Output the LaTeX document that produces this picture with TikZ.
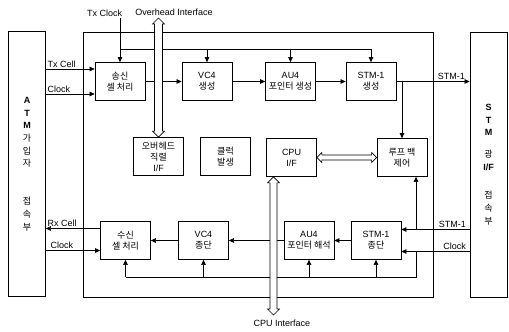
\documentclass[tikz,border=0pt]{standalone}
\usepackage{fontspec}
\setmainfont{Liberation Sans}
\newfontfamily\kr{Noto Sans CJK KR}
\usetikzlibrary{arrows.meta,positioning,calc}

% hollow two-headed arrow: tip, tip, half shaft, half head, head length
\newcommand{\hollowarrow}[5]{%
  \path ($(#1)!#5!(#2)$) coordinate (ha) ($(#2)!#5!(#1)$) coordinate (hb);
  \filldraw[fill=white,line width=0.6pt,line join=miter]
    (#1) -- ($(ha)!#4!90:(#2)$) -- ($(ha)!#3!90:(#2)$)
    -- ($(hb)!#3!-90:(#1)$) -- ($(hb)!#4!-90:(#1)$) -- (#2)
    -- ($(hb)!#4!90:(#1)$) -- ($(hb)!#3!90:(#1)$)
    -- ($(ha)!#3!-90:(#2)$) -- ($(ha)!#4!-90:(#2)$) -- cycle;}

\begin{document}
\begin{tikzpicture}[x=1pt,y=-1pt,line width=0.6pt,
    blk/.style={draw,line width=0.7pt,minimum width=50pt,minimum height=38pt,
      inner sep=1pt,align=center,font=\fontsize{9}{11}\selectfont},
    side/.style={draw,line width=0.7pt,minimum width=37pt,minimum height=265pt,
      inner sep=0pt,align=center,font=\fontsize{9}{12.7}\selectfont},
    lbl/.style={font=\fontsize{9}{10}\selectfont,inner sep=1.5pt},
    arw/.style={-{Triangle[length=5pt,width=4.5pt]}}]
  \useasboundingbox (0,0) rectangle (509,332);

  % outer units
  \node[side] (atm) at (27,164) {\textbf{A}\\\textbf{T}\\\textbf{M}\\{\kr 가}\\{\kr 입}\\{\kr 자}\\[25pt]{\kr 접}\\{\kr 속}\\{\kr 부}};
  \node[side] (stm) at (488.5,164.5) {\textbf{S}\\\textbf{T}\\\textbf{M}\\[9pt]{\kr 광}\\\textbf{I/F}\\[16pt]{\kr 접}\\{\kr 속}\\{\kr 부}};
  \draw[line width=0.7pt] (83,32) rectangle (433,297);

  % transmit row
  \node[blk] (txcell) at (120,81.5) {{\kr 송신}\\{\kr 셀 처리}};
  \node[blk] (vcgen)  at (207,81.5) {VC4\\{\kr 생성}};
  \node[blk] (augen)  at (290.5,81.5) {AU4\\{\kr 포인터 생성}};
  \node[blk] (stmgen) at (371,81.5) {STM-1\\{\kr 생성}};

  % middle row
  \node[blk] (ohif)    at (158.5,156.5) {{\kr 오버헤드}\\{\kr 직렬}\\I/F};
  \node[blk] (clkgen)  at (225.5,156.5) {{\kr 클럭}\\{\kr 발생}};
  \node[blk] (cpuif)   at (291.5,157.5) {CPU\\I/F};
  \node[blk] (loopctl) at (402,157.5) {{\kr 루프 백}\\{\kr 제어}};

  % receive row
  \node[blk] (rxcell)  at (125.5,240.5) {{\kr 수신}\\{\kr 셀 처리}};
  \node[blk] (vcterm)  at (203.5,240.5) {VC4\\{\kr 종단}};
  \node[blk] (auterm)  at (309,240.5) {AU4\\{\kr 포인터 해석}};
  \node[blk] (stmterm) at (376,240.5) {STM-1\\{\kr 종단}};

  % top labels
  \node[lbl,anchor=east] (txclklbl) at (124,13) {Tx Clock};
  \node[lbl] (ohlbl) at (174,12) {Overhead Interface};
  \node[lbl] (cpulbl) at (282,323) {CPU Interface};

  % transmit side
  \coordinate (txin) at ([yshift=12.5pt]txcell.west);
  \coordinate (txck) at ([yshift=-12.5pt]txcell.west);
  \draw[arw] (txin -| atm.east) -- node[lbl,above right,pos=0] {Tx Cell} (txin);
  \draw[arw] (txck -| atm.east) -- node[lbl,above right,pos=0] {Clock} (txck);
  \draw[arw] (txcell.east) -- (vcgen.west);
  \draw[arw] (vcgen.east) -- (augen.west);
  \draw[arw] (augen.east) -- (stmgen.west);
  \draw[arw] (stmgen.east) -- node[lbl,above left,pos=1,xshift=-3pt] {STM-1} (stmgen.east -| stm.west);
  \draw[arw] (stmgen.east -| loopctl.north) -- (loopctl.north);

  % transmit clock
  \coordinate (clkbus) at (0,49);
  \draw[arw] (txclklbl.south -| txcell.north) -- (txcell.north);
  \draw (txcell.north |- clkbus) -- (stmgen.north |- clkbus);
  \foreach \b in {vcgen,augen,stmgen}
    \draw[arw] (\b.north |- clkbus) -- (\b.north);

  % receive side
  \coordinate (rxs) at ([yshift=11pt]stmterm.east);
  \coordinate (rxc) at ([yshift=-11pt]stmterm.east);
  \coordinate (tap) at (416,0);
  \draw[arw] (rxs -| stm.west) -- node[lbl,above left,pos=0,xshift=-2pt] {STM-1} (rxs);
  \draw[arw] (rxc -| stm.west) -- node[lbl,above left,pos=0,xshift=-2pt] {Clock} (rxc);
  \draw[arw] (rxs -| tap) -- (loopctl.south -| tap);
  \draw[arw] (stmterm.west) -- (auterm.east);
  \draw[arw] (auterm.west) -- (vcterm.east);
  \draw[arw] (vcterm.west) -- (rxcell.east);
  \coordinate (rxo) at ([yshift=12pt]rxcell.west);
  \coordinate (rxk) at ([yshift=-10pt]rxcell.west);
  \draw[arw] (rxo) -- node[lbl,above right,pos=1] {Rx Cell} (rxo -| atm.east);
  \draw[arw] (rxk -| atm.east) -- node[lbl,above right,pos=0,xshift=3pt] {Clock} (rxk);

  % receive clock
  \coordinate (rxbus) at (0,277);
  \draw (rxc -| tap) -- (rxbus -| tap) -- (rxbus -| rxcell.south);
  \foreach \b in {rxcell,vcterm,auterm,stmterm}
    \draw[arw] (rxbus -| \b.south) -- (\b.south);

  % interfaces
  \coordinate (ohtop) at (158.5,18);
  \hollowarrow{ohtop}{ohif.north}{4pt}{6pt}{6pt}
  \hollowarrow{cpuif.east}{loopctl.west}{2.5pt}{5pt}{5pt}
  \coordinate (cpubot) at (273.5,315);
  \coordinate (cputop) at (cpuif.south -| cpubot);
  \hollowarrow{cputop}{cpubot}{3.5pt}{6pt}{6pt}
\end{tikzpicture}
\end{document}
